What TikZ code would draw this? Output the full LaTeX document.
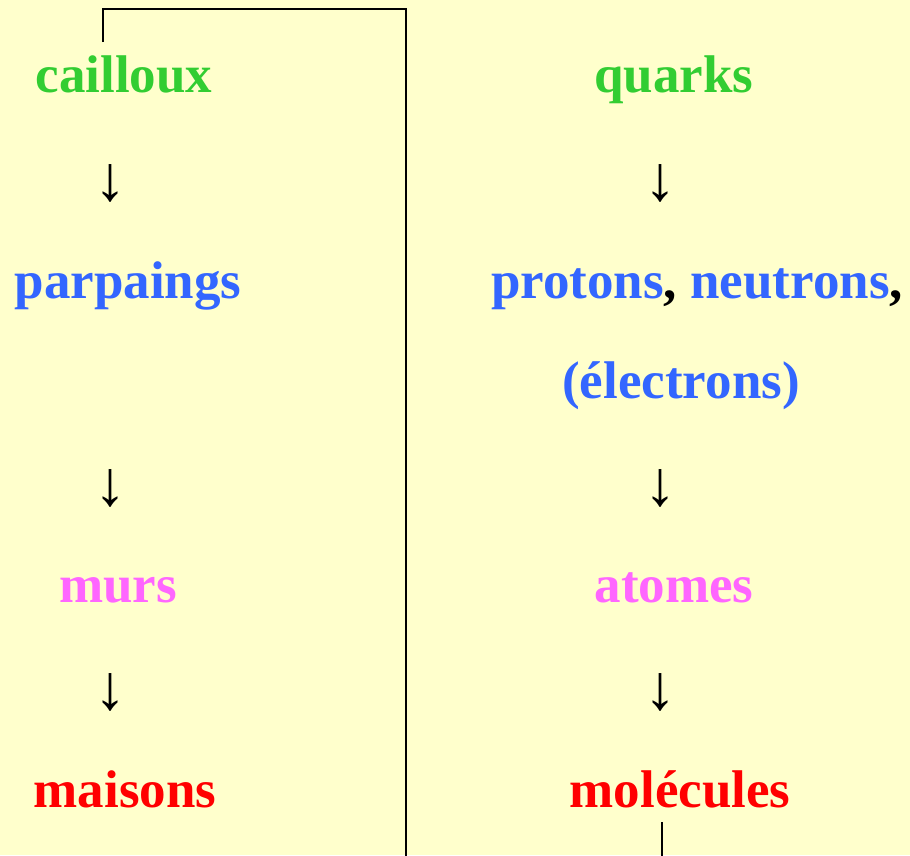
\documentclass[tikz,border=0pt]{standalone}
\usepackage{fontspec}
\setmainfont{Liberation Serif}
\definecolor{bgyellow}{RGB}{255,255,204}
\definecolor{cgreen}{RGB}{50,205,50}
\definecolor{cblue}{RGB}{51,102,255}
\definecolor{cpink}{RGB}{255,102,255}
\definecolor{cred}{RGB}{255,0,0}
\tikzset{
  lbl/.style={anchor=base, inner sep=0pt, font=\fontsize{53}{60}\selectfont\bfseries},
  arr/.style={anchor=base, inner sep=0pt, font=\fontsize{64}{70}\selectfont\bfseries},
  frame/.style={draw=black, line width=2pt}
}
\begin{document}
\begin{tikzpicture}[x=1pt,y=-1pt]
\fill[bgyellow] (0,0) rectangle (910,855);
\useasboundingbox (0,0) rectangle (910,855);
% left column
\node[lbl, text=cgreen] (cail) at (124,92) {cailloux};
\node[arr] (la1) at (110,200) {↓};
\node[lbl, text=cblue] (parp) at (128,298) {parpaings};
\node[arr] (la2) at (110,505) {↓};
\node[lbl, text=cpink] (murs) at (118,602) {murs};
\node[arr] (la3) at (110,709) {↓};
\node[lbl, text=cred] (mais) at (125,807) {maisons};
% right column
\node[lbl, text=cgreen] (quar) at (674,92) {quarks};
\node[arr] (ra1) at (660,200) {↓};
\node[lbl] (prot) at (697,298) {\textcolor{cblue}{protons}, \textcolor{cblue}{neutrons},};
\node[lbl, text=cblue] (elec) at (681,398) {(électrons)};
\node[arr] (ra2) at (660,505) {↓};
\node[lbl, text=cpink] (atom) at (674,602) {atomes};
\node[arr] (ra3) at (660,709) {↓};
\node[lbl, text=cred] (mole) at (680,807) {molécules};
% frame lines
\coordinate (f0) at (103,42);
\coordinate (f1) at (103,9);
\coordinate (f2) at (406,9);
\coordinate (f3) at (406,856);
\coordinate (m0) at (662,822);
\coordinate (m1) at (662,856);
\draw[frame] (f0) -- (f1) -- (f2) -- (f3);
\draw[frame] (m0) -- (m1);
\end{tikzpicture}
\end{document}
